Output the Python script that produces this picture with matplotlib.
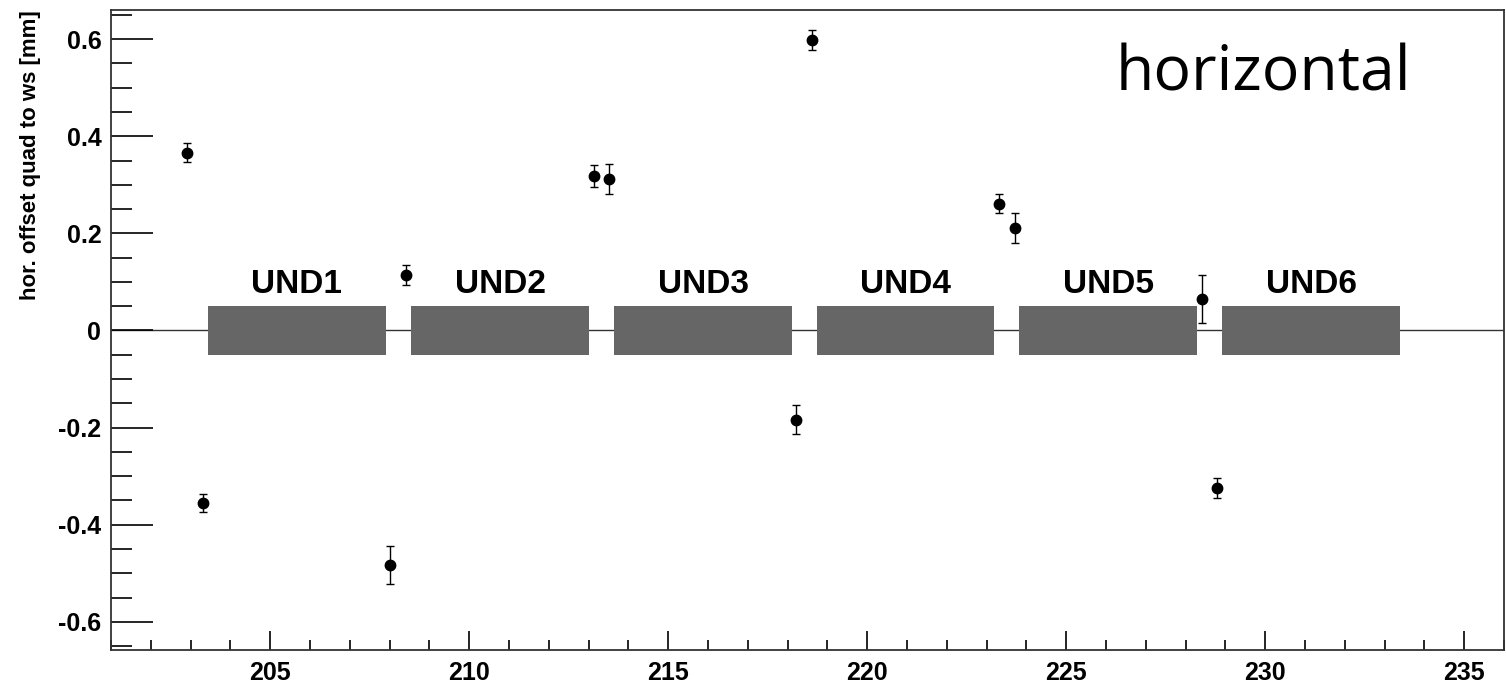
import numpy as np
import matplotlib.pyplot as plt
from matplotlib.ticker import MultipleLocator
from matplotlib.patches import Rectangle

# measured offsets (quad to wire scanner)
z_pos = [202.91, 203.31, 208.01, 208.41, 213.14, 213.51, 218.21, 218.61,
         223.31, 223.71, 228.41, 228.79]
offset = [0.366, -0.355, -0.483, 0.114, 0.318, 0.312, -0.184, 0.598,
          0.261, 0.211, 0.065, -0.324]
offset_err = [0.020, 0.018, 0.040, 0.020, 0.022, 0.030, 0.030, 0.020,
              0.020, 0.030, 0.050, 0.020]

# undulator segments
und_names = ["UND1", "UND2", "UND3", "UND4", "UND5", "UND6"]
und_start = [203.43, 208.54, 213.64, 218.74, 223.81, 228.91]
und_end = [207.91, 213.01, 218.11, 223.19, 228.29, 233.39]
und_halfheight = 0.05

plt.rcParams['font.family'] = ['Liberation Sans', 'DejaVu Sans']

fig = plt.figure(figsize=(15.06, 6.84), dpi=100)
ax = fig.add_axes([0.0737, 0.0497, 0.925, 0.935])

ax.axhline(0, color="#333333", lw=1.0, zorder=1)

for name, a, b in zip(und_names, und_start, und_end):
    ax.add_patch(Rectangle((a, -und_halfheight), b - a, 2 * und_halfheight,
                           facecolor="#666666", edgecolor="none", zorder=2))
    ax.text((a + b) / 2, 0.062, name, ha="center", va="bottom",
            fontsize=24, fontweight="bold", zorder=3)

ax.errorbar(z_pos, offset, yerr=offset_err, fmt="o", color="black",
            markersize=7.5, elinewidth=1, capsize=3, capthick=1, zorder=4)

ax.text(229.95, 0.495, "horizontal", ha="center", va="baseline",
        fontsize=45, family=["Open Sans", "DejaVu Sans"])

ax.set_xlim(201, 236)
ax.set_ylim(-0.658, 0.659)
ax.xaxis.set_major_locator(MultipleLocator(5))
ax.xaxis.set_minor_locator(MultipleLocator(1))
ax.yaxis.set_major_locator(MultipleLocator(0.2))
ax.yaxis.set_minor_locator(MultipleLocator(0.05))

ax.tick_params(axis="x", which="major", direction="in", length=14, width=1.2,
               top=False, labelsize=18, pad=8)
ax.tick_params(axis="x", which="minor", direction="in", length=7, width=1.2, top=False)
ax.tick_params(axis="y", which="major", direction="in", length=30, width=1.2,
               right=False, labelsize=18, pad=7)
ax.tick_params(axis="y", which="minor", direction="in", length=15, width=1.2, right=False)
for lbl in ax.get_xticklabels() + ax.get_yticklabels():
    lbl.set_fontweight("bold")
ax.yaxis.set_major_formatter(plt.FuncFormatter(lambda v, p: "0" if abs(v) < 1e-9 else f"{v:.1f}"))

ax.set_ylabel("hor. offset quad to ws [mm]", fontsize=16, fontweight="bold", loc="top", labelpad=12)
for s in ax.spines.values():
    s.set_linewidth(1.3)
    s.set_color("#333333")

fig.savefig("out.png", dpi=100)
